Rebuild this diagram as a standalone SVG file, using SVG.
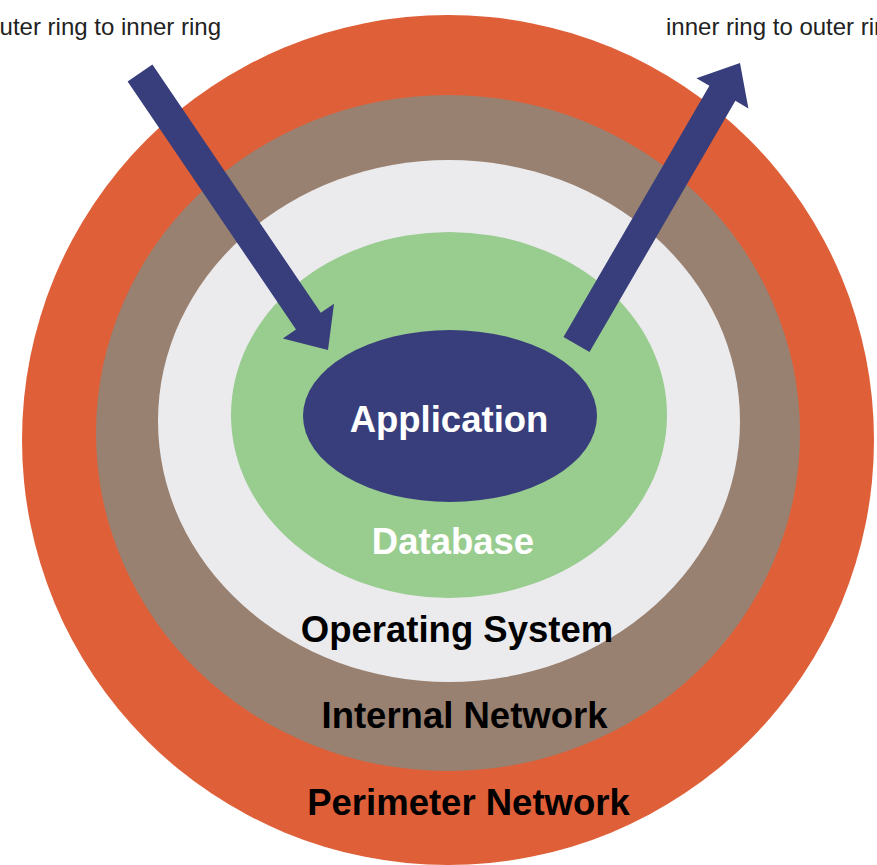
<svg xmlns="http://www.w3.org/2000/svg" width="877" height="865" viewBox="0 0 877 865">
<style>
.lbl{font-family:"Liberation Sans",Arial,sans-serif;font-weight:bold;text-anchor:middle;font-size:36.5px}
.cap{font-family:"Liberation Sans",Arial,sans-serif;font-size:24px;fill:#222}
.arrow{fill:#373e7b}
</style>
<rect width="877" height="865" fill="#ffffff"/>
<g id="perimeter-network"><ellipse cx="448" cy="440" rx="426" ry="425" fill="#de5f38"/></g>
<g id="internal-network"><ellipse cx="448" cy="433" rx="352" ry="338" fill="#998171"/></g>
<g id="operating-system"><ellipse cx="449" cy="421" rx="291" ry="261" fill="#ebebee"/></g>
<g id="database"><ellipse cx="449" cy="415" rx="218" ry="183" fill="#99cc8f"/></g>
<g id="application"><ellipse cx="450" cy="416" rx="147" ry="86" fill="#373e7b"/>
<text class="lbl" x="449" y="432" fill="#ffffff">Application</text></g>
<g id="labels">
<text class="lbl" x="453" y="554" fill="#ffffff">Database</text>
<text class="lbl" x="457" y="642" fill="#000">Operating System</text>
<text class="lbl" x="464.5" y="728" fill="#000">Internal Network</text>
<text class="lbl" x="468.5" y="815" fill="#000">Perimeter Network</text>
</g>
<g id="connectors">
<polygon class="arrow" points="152.4,64.6 320.8,312.7 334,303.7 328,350 282.8,338.5 296,329.5 127.6,81.4"/>
<polygon class="arrow" points="589.5,352 735.4,100.8 748.4,108.4 740,63 696.4,78.2 709.4,85.8 563.5,337"/>
</g>
<g id="captions">
<text class="cap" x="221" y="35" text-anchor="end">outer ring to inner ring</text>
<text class="cap" x="666" y="35">inner ring to outer ring</text>
</g>
</svg>
